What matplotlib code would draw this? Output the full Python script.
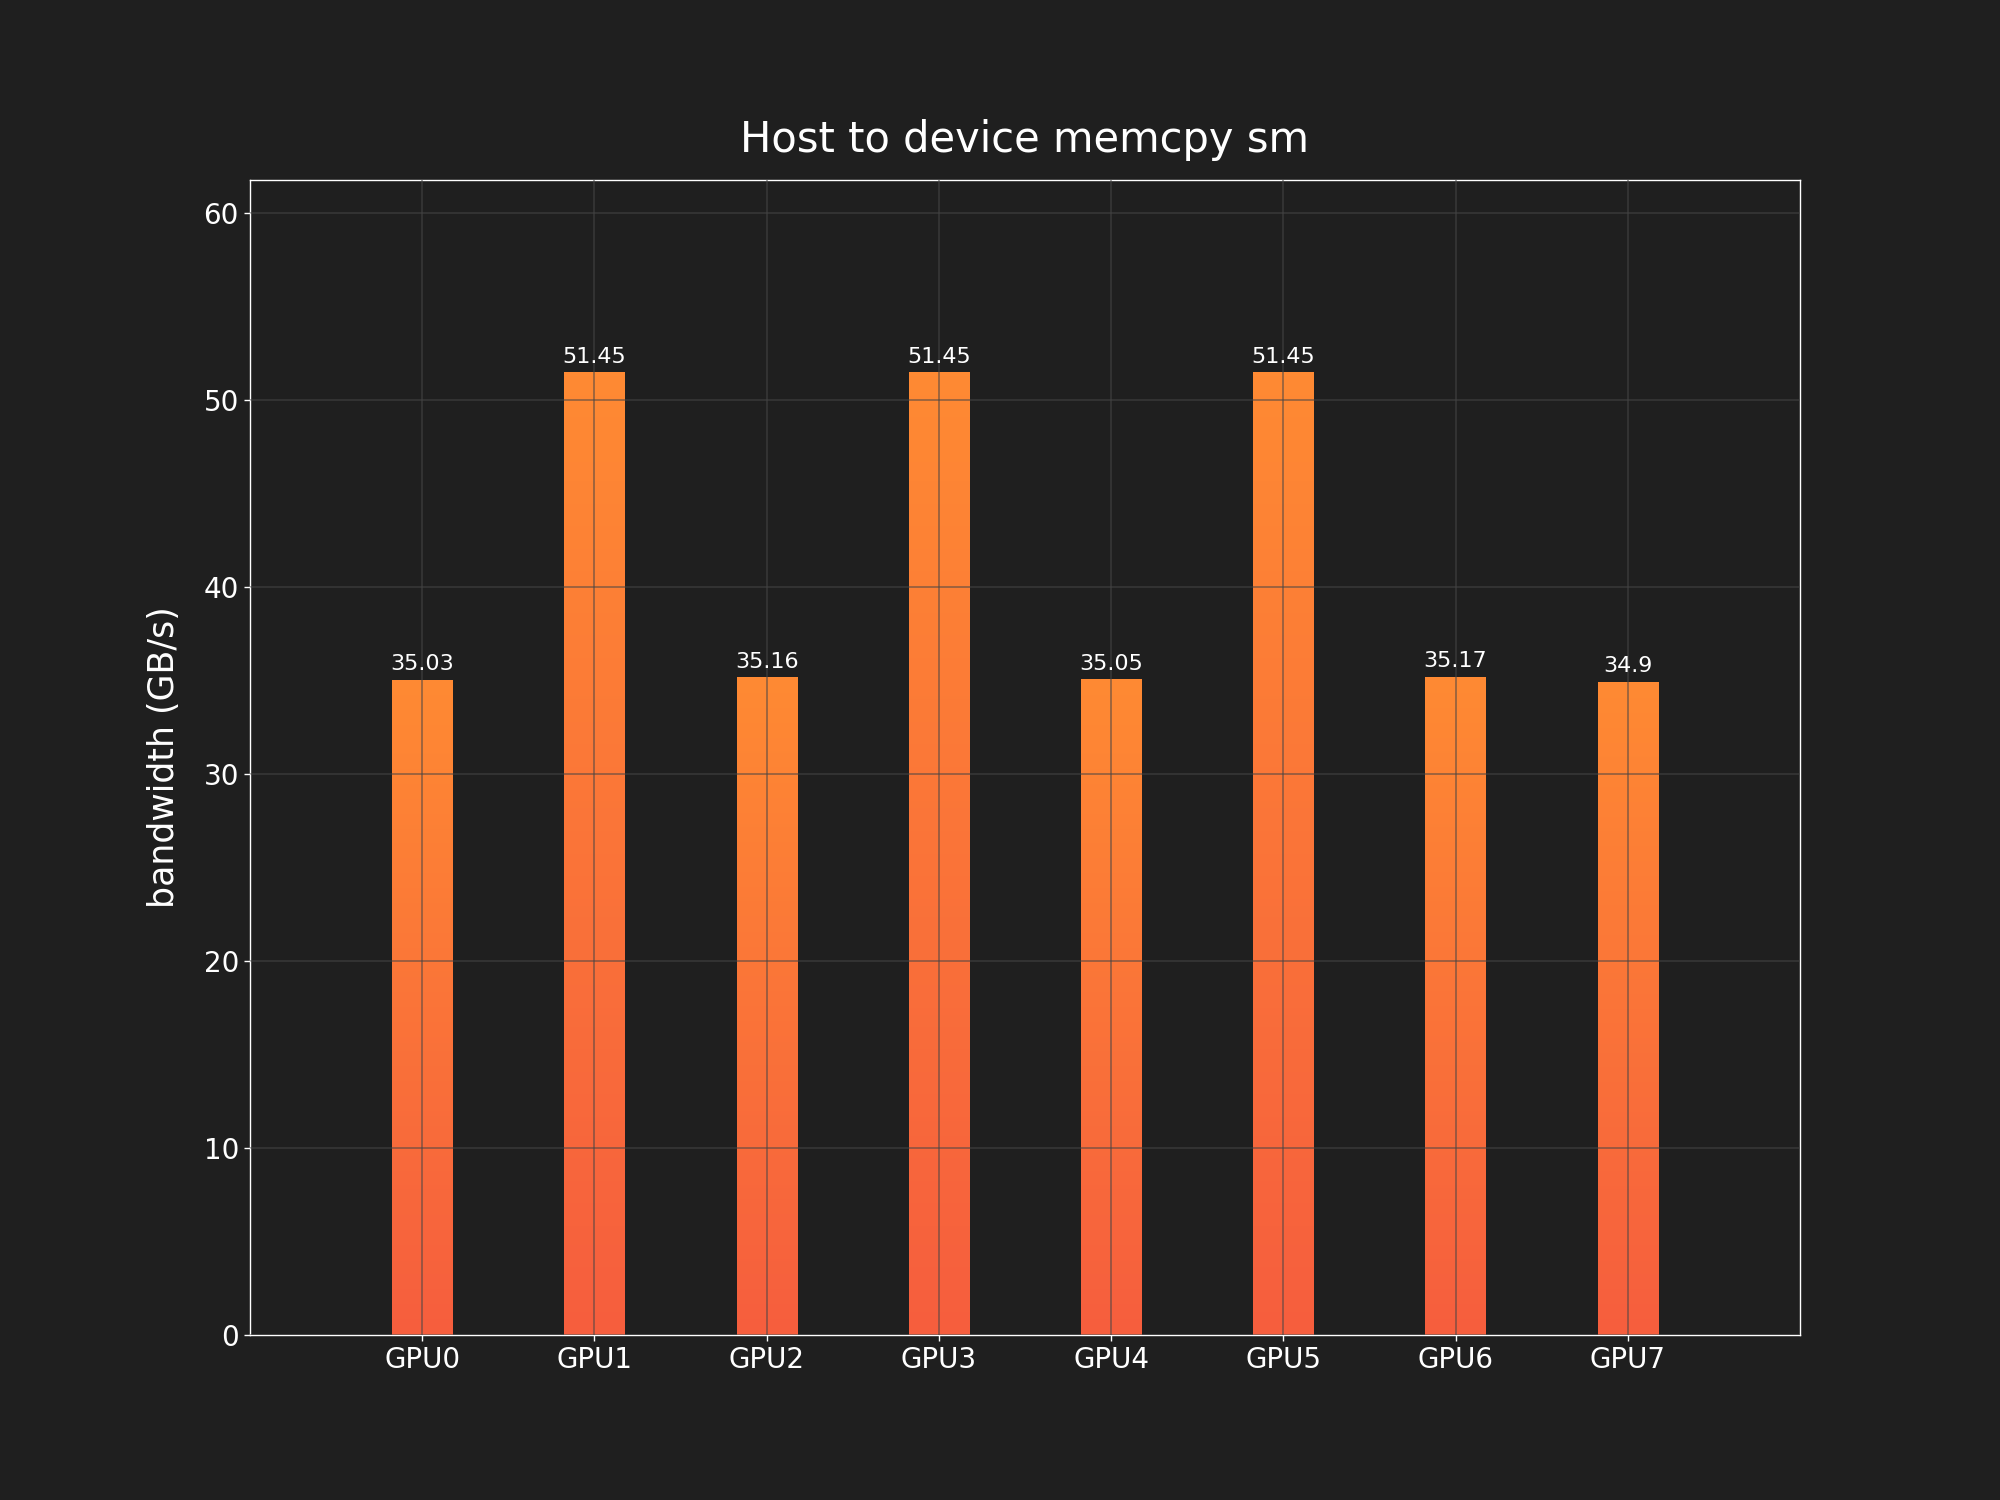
import numpy as np
import matplotlib
matplotlib.use("Agg")
import matplotlib.pyplot as plt
from matplotlib.colors import LinearSegmentedColormap

gpus = ["GPU0", "GPU1", "GPU2", "GPU3", "GPU4", "GPU5", "GPU6", "GPU7"]
bandwidth = [35.03, 51.45, 35.16, 51.45, 35.05, 51.45, 35.17, 34.9]

bg = "#1f1f1f"
grad = LinearSegmentedColormap.from_list("bar_grad", ["#f65e3e", "#ff8a33"])

fig, ax = plt.subplots(figsize=(10, 7.5), dpi=200)
fig.patch.set_facecolor(bg)
ax.set_facecolor(bg)

x = np.arange(len(gpus))
bars = ax.bar(x, bandwidth, width=0.35, color="none", edgecolor="none")

# gradient fill inside every bar
gradient = np.linspace(0, 1, 256).reshape(-1, 1)
for b in bars:
    x0, y0 = b.get_x(), b.get_y()
    w, h = b.get_width(), b.get_height()
    im = ax.imshow(gradient, cmap=grad, origin="lower", aspect="auto",
                   extent=[x0, x0 + w, y0, y0 + h], zorder=1)
    im.set_clip_path(b)
    ax.text(x0 + w / 2, h + 0.3, f"{h:g}", ha="center", va="bottom",
            color="white", fontsize=8)

ax.set_xlim(-1, len(gpus))
ax.set_ylim(0, max(bandwidth) * 1.2)
ax.set_xticks(x)
ax.set_xticklabels(gpus)

ax.set_axisbelow(False)
ax.grid(True, color="#454545", alpha=0.6, linewidth=0.6, zorder=3)

for s in ax.spines.values():
    s.set_color("white")
    s.set_linewidth(0.5)
ax.tick_params(colors="white", labelsize=10, length=2, pad=2, width=0.5)

ax.set_title("Host to device memcpy sm", color="white", fontsize=15, pad=10)
ax.set_ylabel("bandwidth (GB/s)", color="white", fontsize=12.5, labelpad=8)

fig.savefig("out.png", dpi=200, facecolor=bg)
